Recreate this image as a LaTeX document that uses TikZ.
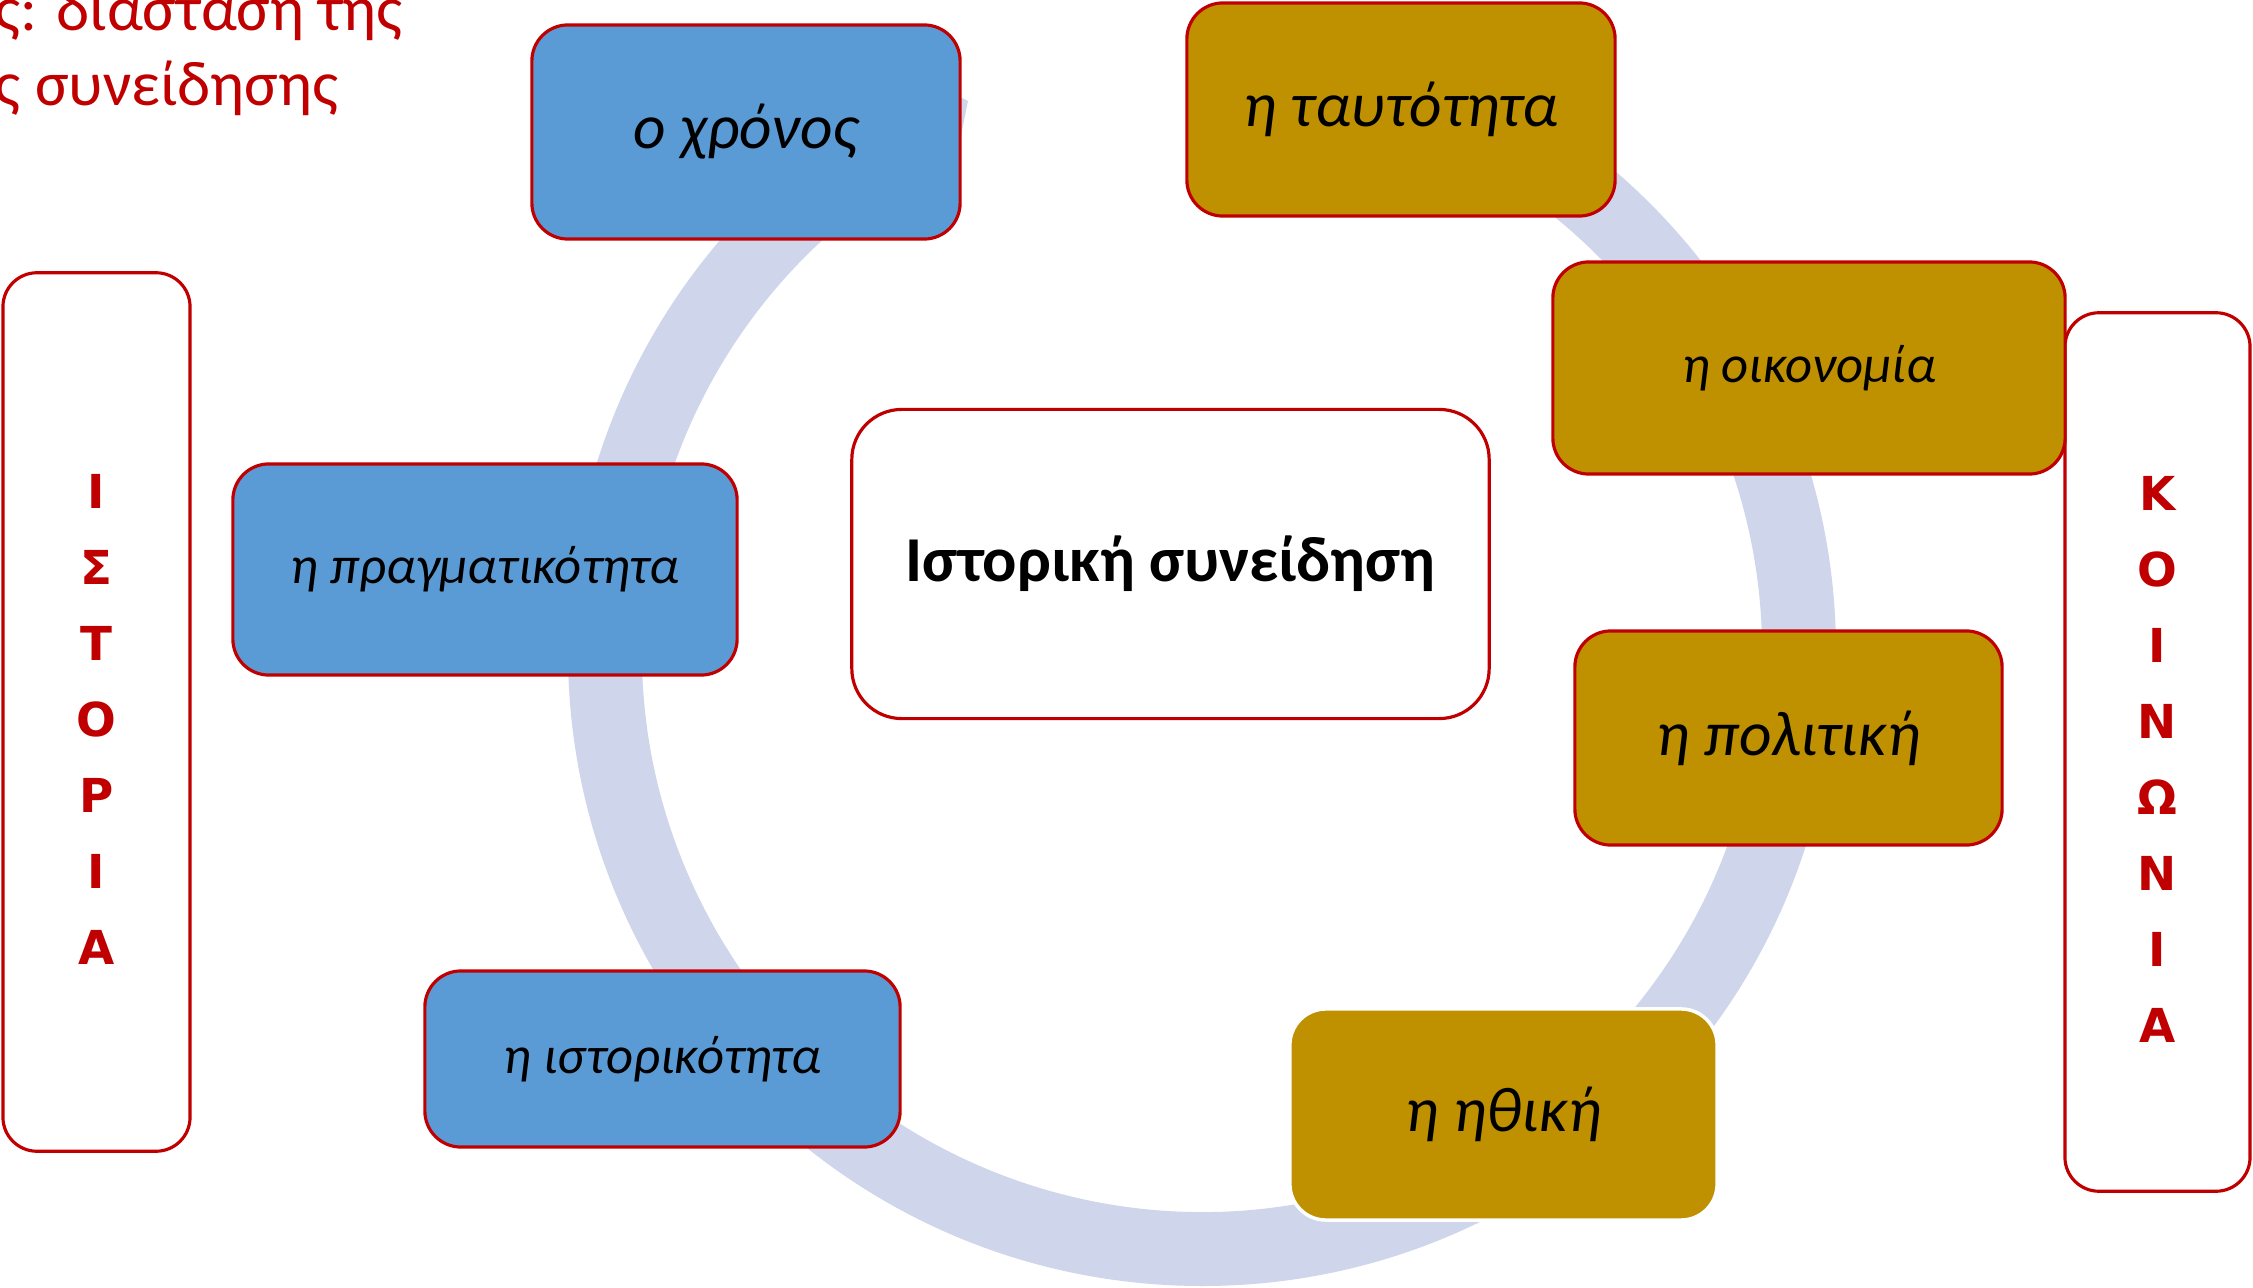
\documentclass[tikz,border=0pt]{standalone}
\usepackage{fontspec}
\setmainfont{Carlito}
\newfontfamily\sidefont{DejaVu Sans}
\definecolor{boxblue}{HTML}{5B9BD5}
\definecolor{boxgold}{HTML}{BF9000}
\definecolor{bordred}{HTML}{C00000}
\definecolor{ringc}{HTML}{CFD5EA}
\tikzset{
  basebox/.style={rounded corners=0.36cm, draw=bordred, line width=0.9pt, inner sep=0pt, align=center, text=black},
  bluebox/.style={basebox, fill=boxblue},
  goldbox/.style={basebox, fill=boxgold},
  bigit/.style={font=\fontsize{18}{21.6}\selectfont\itshape},
  smallit/.style={font=\fontsize{15}{18}\selectfont\itshape},
  sidebox/.style={basebox, fill=white, rounded corners=0.34cm, text=bordred,
    font=\sidefont\bfseries\fontsize{13.3}{21.6}\selectfont},
  titletext/.style={text=bordred, font=\fontsize{18}{21.6}\selectfont, anchor=base west, inner sep=0pt}
}
\begin{document}
\begin{tikzpicture}[x=0.01cm, y=-0.01cm]
\clip (0,0) rectangle (2253,1288);
\fill[white] (0,0) rectangle (2253,1288);
% ring
\begin{scope}[shift={(1202,652)}, yscale=-1]
  \fill[ringc] (88:634) arc[start angle=88, end angle=-244, radius=634]
     -- (-244:560) arc[start angle=-244, end angle=88, radius=560] -- cycle;
\end{scope}
\fill[ringc] (950,92) -- (968,101) -- (958,150) -- cycle;
% title fragment
\node[titletext] (t1) at (-6,31) {ς: διάσταση της};
\node[titletext] (t2) at (-6,106) {ς συνείδησης};
% side boxes
\node[sidebox, minimum width=1.87cm, minimum height=8.78cm] (hist) at (96.5,712) {\rule{0pt}{14pt}Ι\\Σ\\Τ\\Ο\\Ρ\\Ι\\Α};
\node[sidebox, minimum width=1.85cm, minimum height=8.78cm] (soc) at (2157.5,752) {\rule{0pt}{14pt}Κ\\Ο\\Ι\\Ν\\Ω\\Ν\\Ι\\Α};
% blue boxes
\node[bluebox, bigit, minimum width=4.28cm, minimum height=2.14cm] (time) at (746,132) {ο χρόνος};
\node[bluebox, smallit, minimum width=5.04cm, minimum height=2.11cm] (real) at (485,569.5) {η πραγματικότητα};
\node[bluebox, smallit, minimum width=4.75cm, minimum height=1.76cm] (histy) at (662.5,1059) {η ιστορικότητα};
% gold boxes
\node[goldbox, bigit, minimum width=4.28cm, minimum height=2.13cm] (ident) at (1401,109.5) {η ταυτότητα};
\node[goldbox, smallit, minimum width=5.12cm, minimum height=2.12cm] (econ) at (1809,368) {η οικονομία};
\node[goldbox, bigit, minimum width=4.27cm, minimum height=2.14cm] (polit) at (1788.5,738) {η πολιτική};
\node[goldbox, bigit, draw=white, line width=1pt, minimum width=4.27cm, minimum height=2.11cm] (ethic) at (1503.5,1114.5) {η ηθική};
% center
\node[basebox, fill=white, rounded corners=0.5cm, font=\fontsize{18.2}{22}\selectfont\bfseries, minimum width=6.37cm, minimum height=3.09cm] (core) at (1170.5,564) {Ιστορική συνείδηση};
\end{tikzpicture}
\end{document}
